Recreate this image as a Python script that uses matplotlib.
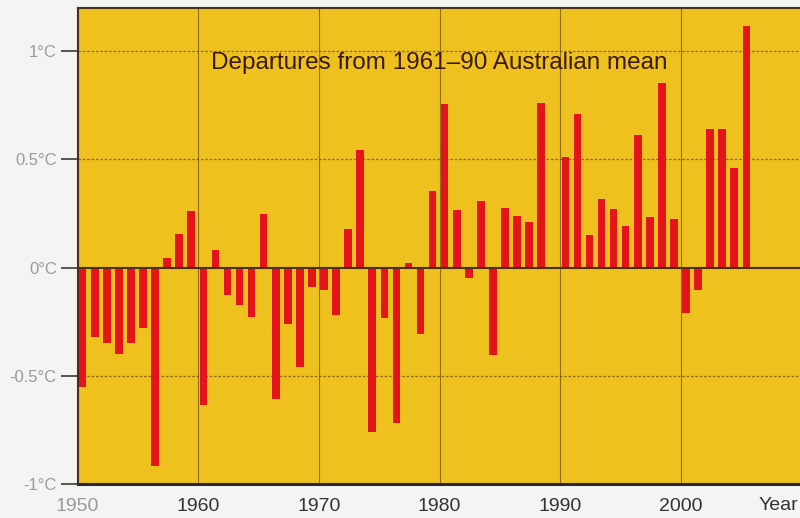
import numpy as np
import matplotlib.pyplot as plt

# ── DATA ──────────────────────────────────────────────────
years = np.arange(1950, 2006)
anomaly = [
    -0.55, -0.32, -0.35, -0.40, -0.35, -0.28, -0.915, 0.045, 0.157, 0.26,
    -0.637, 0.082, -0.128, -0.173, -0.228, 0.247, -0.605, -0.259, -0.458, -0.088,
    -0.103, -0.22, 0.178, 0.545, -0.76, -0.231, -0.717, 0.02, -0.305, 0.355,
    0.755, 0.267, -0.046, 0.309, -0.404, 0.275, 0.238, 0.21, 0.762, 0.0,
    0.511, 0.708, 0.149, 0.318, 0.269, 0.192, 0.611, 0.235, 0.854, 0.223,
    -0.211, -0.105, 0.642, 0.642, 0.462, 1.115,
]
y_ticks = [-1, -0.5, 0, 0.5, 1]
y_labels = ["-1°C", "-0.5°C", "0°C", "0.5°C", "1°C"]
x_ticks = [1950, 1960, 1970, 1980, 1990, 2000]
title = "Departures from 1961\u201390 Australian mean"

# ── STYLE ─────────────────────────────────────────────────
plt.rcParams["font.family"] = ["Liberation Sans", "DejaVu Sans"]
YELLOW = "#eec11e"
RED = "#e5131a"
DARK = "#4a3018"

fig = plt.figure(figsize=(8, 5.18), dpi=100, facecolor="#f4f4f2")
ax = fig.add_axes([0.097, 0.0656, 0.905, 0.919])
ax.set_facecolor(YELLOW)

# grid
for v in [-0.5, 0.5, 1]:
    ax.axhline(v, color="#6a4a1a", lw=0.9, ls=(0, (2, 1.5)), alpha=0.75, zorder=1)
for d in x_ticks[1:]:
    ax.axvline(d, color="#6a4a1a", lw=0.8, alpha=0.7, zorder=1)

ax.bar(years + 0.42, anomaly, width=0.63, color=RED, zorder=2)
ax.axhline(0, color=DARK, lw=1.5, zorder=3)

ax.set_xlim(1950, 2010)
ax.set_ylim(-1, 1.2)

ax.set_yticks(y_ticks)
ax.set_yticklabels(y_labels, fontsize=12, color="#9a9a9a")
ax.tick_params(axis="y", length=12, width=1.2, color="#3a3a3a", pad=3)

ax.set_xticks(x_ticks)
ax.set_xticklabels([str(x) for x in x_ticks], fontsize=14, color="#333333")
ax.get_xticklabels()[0].set_color("#9a9a9a")
ax.tick_params(axis="x", length=0, pad=10)

ax.text(2008.1, -1.097, "Year", fontsize=14, color="#333333",
        ha="center", va="center", clip_on=False)

ax.text(1980, 0.945, title, fontsize=17.5, color="#3a1a10",
        ha="center", va="center", zorder=4)

for s in ["left", "top"]:
    ax.spines[s].set_color(DARK)
    ax.spines[s].set_linewidth(1.5)
ax.spines["bottom"].set_color("#2a2a2a")
ax.spines["bottom"].set_linewidth(2.2)
ax.spines["right"].set_visible(False)

plt.savefig("out.png", dpi=100, facecolor=fig.get_facecolor())
